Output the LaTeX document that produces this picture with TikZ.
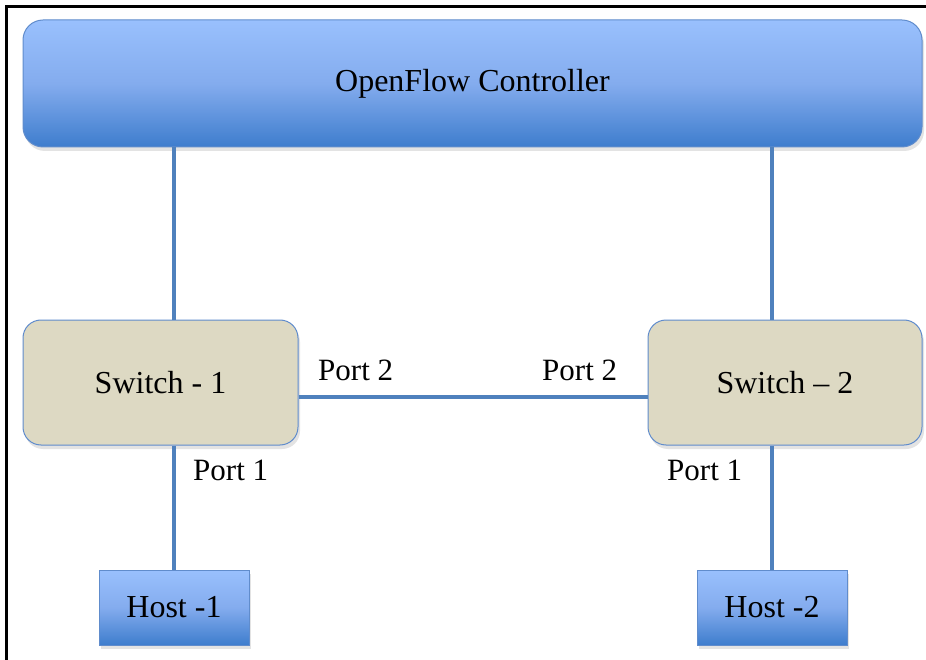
\documentclass[tikz,border=0pt]{standalone}
\usepackage{fontspec}
\setmainfont{Liberation Serif}
\usetikzlibrary{shadows}
\definecolor{gtop}{RGB}{153,192,253}
\definecolor{gmid}{RGB}{132,172,238}
\definecolor{gbot}{RGB}{62,125,205}
\definecolor{swfill}{RGB}{221,217,195}
\definecolor{edgeblue}{RGB}{96,140,204}
\definecolor{linkblue}{RGB}{79,129,189}
\tikzset{
  lbl/.style={font=\fontsize{31}{36}\selectfont, inner sep=0pt},
  bluebox/.style={draw=edgeblue, line width=1pt, top color=gtop, bottom color=gbot, middle color=gmid,
    inner sep=0pt, font=\fontsize{32}{36}\selectfont,
    drop shadow={opacity=0.22, shadow xshift=2pt, shadow yshift=-4pt}},
  switchbox/.style={draw=edgeblue, line width=1pt, fill=swfill, rounded corners=18pt,
    minimum width=275pt, minimum height=125pt, inner sep=0pt, font=\fontsize{32}{36}\selectfont,
    drop shadow={opacity=0.22, shadow xshift=2pt, shadow yshift=-4pt}},
  link/.style={draw=linkblue, line width=4pt},
}
\begin{document}
\begin{tikzpicture}[x=1pt, y=-1pt]
\useasboundingbox (0,0) rectangle (926,660);
\fill[white] (0,0) rectangle (926,660);
% frame (top and left edges)
\draw[black, line width=2.5pt] (6.5,660) -- (6.5,6.5) -- (926,6.5);

% nodes
\node[bluebox, rounded corners=20pt, minimum width=899pt, minimum height=127pt] (ctrl) at (472.5,83.5) {\raisebox{2pt}{OpenFlow Controller}};
\node[switchbox] (s1) at (160.5,382.5) {\raisebox{1pt}{Switch - 1}};
\node[switchbox, minimum width=274pt] (s2) at (785,382.5) {\raisebox{1pt}{Switch -- 2}};
\node[bluebox, minimum width=150pt, minimum height=75pt] (h1) at (174,607.5) {\raisebox{2pt}{Host -1}};
\node[bluebox, minimum width=150pt, minimum height=75pt] (h2) at (772,607.5) {\raisebox{2pt}{Host -2}};

% connectors
\draw[link] (ctrl.south -| h1.north) -- (s1.north -| h1.north);
\draw[link] (s1.south -| h1.north) -- (h1.north);
\draw[link] (ctrl.south -| h2.north) -- (s2.north -| h2.north);
\draw[link] (s2.south -| h2.north) -- (h2.north);
\draw[link] ([yshift=-14.5pt]s1.east) -- ([yshift=-14.5pt]s2.west);

% port labels
\node[lbl, anchor=base west] (p2a) at (318,380) {Port 2};
\node[lbl, anchor=base west] (p2b) at (542,380) {Port 2};
\node[lbl, anchor=base west] (p1a) at (193,480) {Port 1};
\node[lbl, anchor=base west] (p1b) at (667,480) {Port 1};
\end{tikzpicture}
\end{document}
